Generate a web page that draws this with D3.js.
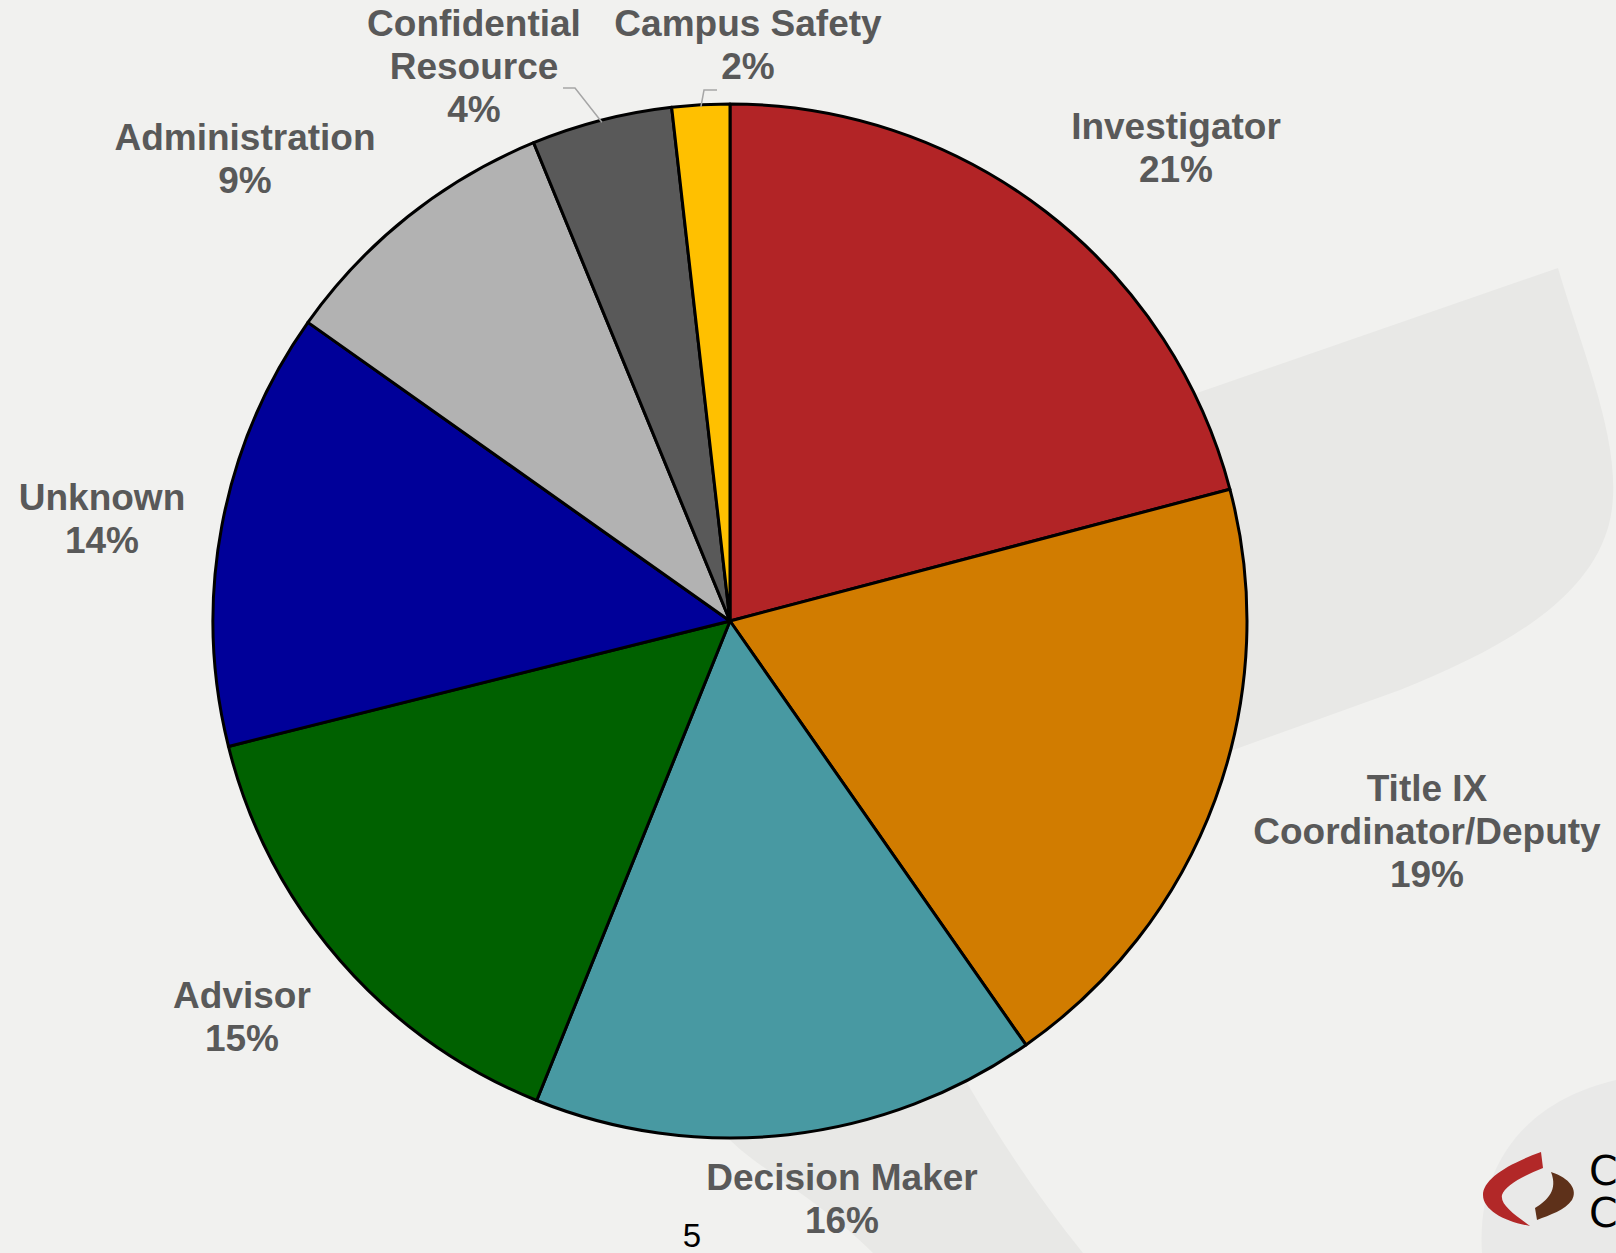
<!DOCTYPE html>
<html>
<head>
<meta charset="utf-8">
<script src="https://cdn.jsdelivr.net/npm/d3@7"></script>
<style>
  html, body { margin: 0; padding: 0; background: #F1F1EF; }
  svg { display: block; }
</style>
</head>
<body>
<svg id="chart" width="1616" height="1253"></svg>
<script>
// ---- data ----
const categories = ["Investigator", "Title IX\nCoordinator/Deputy", "Decision Maker", "Advisor",
                    "Unknown", "Administration", "Confidential\nResource", "Campus Safety"];
const values = [20.9, 19.4, 15.8, 15.0, 13.7, 9.0, 4.4, 1.8];
const colors = ["#B22426", "#D17C00", "#4899A2", "#006100", "#000099", "#B2B2B2", "#595959", "#FFC000"];

// ---- layout (label anchors: x, first baseline y; optional leader elbow) ----
const labelLayout = [
  {x: 1176, y: 139},
  {x: 1427, y: 801},
  {x: 842,  y: 1190},
  {x: 242,  y: 1008},
  {x: 102,  y: 510},
  {x: 245,  y: 150},
  {x: 474,  y: 36, leader: [[563, 88], [575, 88]]},
  {x: 748,  y: 36, leader: [[717, 90], [704, 90]]}
];

const W = 1616, H = 1253;
const cx = 730, cy = 621, R = 517;
const svg = d3.select("#chart");

// ---- background decoration ----
svg.append("rect").attr("width", W).attr("height", H).attr("fill", "#F1F1EF");
svg.append("path")
  .attr("d", "M1197,393 L1558,268 C1585,360 1625,450 1610,520 C1592,600 1500,650 1400,690 L1233,750 L1100,850 C960,950 935,1030 967,1083 C1000,1140 1040,1200 1083,1253 L873,1253 C820,1200 760,1170 730,1140 L700,900 Z")
  .attr("fill", "#E8E8E6");
svg.append("path")
  .attr("d", "M1482,1253 C1476,1160 1530,1100 1616,1080 L1616,1253 Z")
  .attr("fill", "#E9E9E8");

// ---- pie ----
const data = categories.map((c, i) => ({cat: c, value: values[i], color: colors[i], lay: labelLayout[i]}));
const pie = d3.pie().sort(null).value(d => d.value).startAngle(0).endAngle(2 * Math.PI);
const arc = d3.arc().innerRadius(0).outerRadius(R);
const arcs = pie(data);

const g = svg.append("g").attr("transform", `translate(${cx},${cy})`);
g.selectAll("path.slice")
  .data(arcs)
  .join("path")
  .attr("class", "slice")
  .attr("d", arc)
  .attr("fill", d => d.data.color)
  .attr("stroke", "#000")
  .attr("stroke-width", 3)
  .attr("stroke-linejoin", "round");

// ---- leader lines ----
arcs.forEach(a => {
  const lay = a.data.lay;
  if (!lay.leader) return;
  const mid = (a.startAngle + a.endAngle) / 2;
  const px = cx + (R - 2) * Math.sin(mid);
  const py = cy - (R - 2) * Math.cos(mid);
  const pts = lay.leader.concat([[px, py]]);
  svg.append("path")
    .attr("d", d3.line()(pts))
    .attr("fill", "none")
    .attr("stroke", "#A6A6A6")
    .attr("stroke-width", 1.5);
});

// ---- labels ----
const lineH = 43;
arcs.forEach(a => {
  const lay = a.data.lay;
  const lines = a.data.cat.split("\n").concat([Math.round(a.data.value) + "%"]);
  const t = svg.append("text")
    .attr("x", lay.x)
    .attr("y", lay.y)
    .attr("text-anchor", "middle")
    .attr("font-family", "'Liberation Sans', Arial, sans-serif")
    .attr("font-weight", "bold")
    .attr("font-size", 37)
    .attr("fill", "#595959");
  lines.forEach((ln, i) => {
    t.append("tspan").attr("x", lay.x).attr("y", lay.y + i * lineH).text(ln);
  });
});

// ---- page number ----
svg.append("text")
  .attr("x", 692).attr("y", 1247)
  .attr("text-anchor", "middle")
  .attr("font-family", "'Liberation Sans', Arial, sans-serif")
  .attr("font-size", 33)
  .attr("fill", "#000")
  .text("5");

// ---- logo (partially cut off at the right edge) ----
svg.append("path")
  .attr("d", "M1541,1152 C1505,1165 1483,1180 1483,1195 C1483,1210 1505,1222 1530,1226 C1515,1215 1500,1205 1502,1195 C1505,1185 1525,1175 1543,1168 Z")
  .attr("fill", "#B22828");
svg.append("path")
  .attr("d", "M1551,1172 C1570,1178 1578,1190 1572,1200 C1565,1210 1550,1215 1537,1220 L1535,1208 C1548,1200 1558,1190 1551,1172 Z")
  .attr("fill", "#5E311A");
const logoText = svg.append("text")
  .attr("font-family", "'DejaVu Sans', sans-serif")
  .attr("font-size", 41)
  .attr("fill", "#000");
logoText.append("tspan").attr("x", 1589).attr("y", 1185).text("C");
logoText.append("tspan").attr("x", 1589).attr("y", 1227).text("C");
</script>
</body>
</html>
